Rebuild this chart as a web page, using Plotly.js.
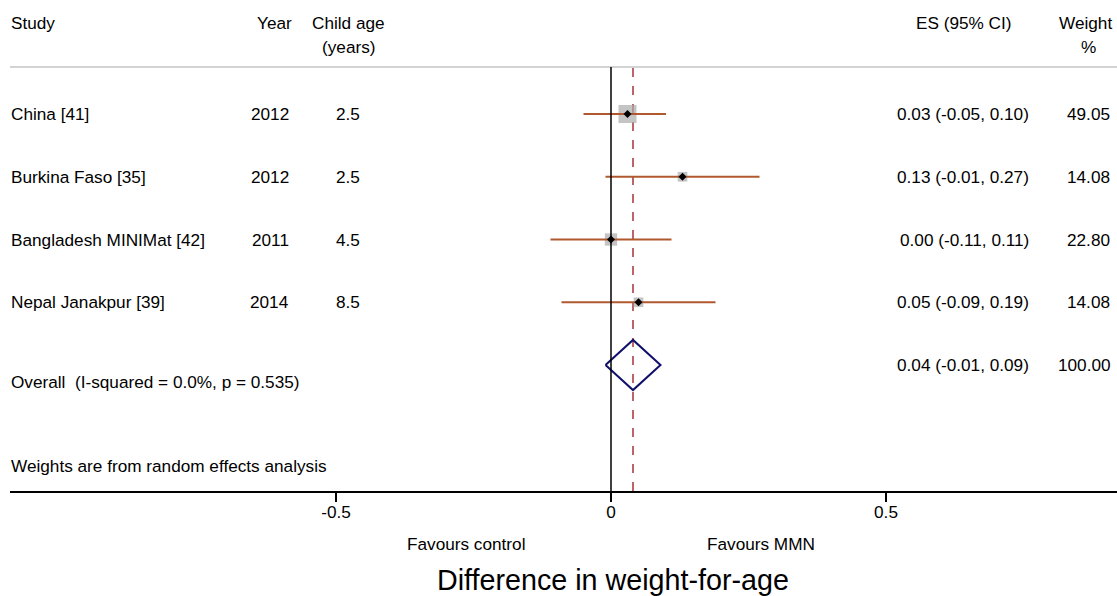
<!DOCTYPE html>
<html><head><meta charset="utf-8">
<script src="https://cdn.plot.ly/plotly-3.0.1.min.js"></script>
<style>html,body{margin:0;padding:0;background:#fff}</style>
</head><body><div id="chart" style="width:1117px;height:596px"></div>
<script>
// ---- data ----
const studies = ['China [41]', 'Burkina Faso [35]', 'Bangladesh MINIMat [42]', 'Nepal Janakpur [39]'];
const years = ['2012', '2012', '2011', '2014'];
const childAge = ['2.5', '2.5', '4.5', '8.5'];
const es = [0.03, 0.13, 0.00, 0.05];
const lower = [-0.05, -0.01, -0.11, -0.09];
const upper = [0.10, 0.27, 0.11, 0.19];
const weights = [49.05, 14.08, 22.80, 14.08];
const overallLabel = 'Overall  (I-squared = 0.0%, p = 0.535)';
const overallES = 0.04, overallLower = -0.01, overallUpper = 0.09, overallWeight = 100.00;
const tickVals = [-0.5, 0, 0.5];
const tickText = ['-0.5', '0', '0.5'];

// ---- layout helpers ----
const W = 1117, H = 596, L = 10, AX = 491;
const px = p => (p - L) / (W - L);          // paper x from pixel
const py = p => (AX - p) / AX;              // paper y from pixel (plot top at 0)
const rowY = i => i + 1;                    // study rows 1..4, overall 5
const FONT = 'Liberation Sans, Arial, sans-serif';
const BODY = 17.2;
const fmt = v => v.toFixed(2);
const ciText = (e, l, u) => fmt(e) + ' (' + fmt(l) + ', ' + fmt(u) + ')';

const rows = studies.map((s, i) => rowY(i));
const maxW = Math.max(...weights);

const traces = [
  { // weight boxes
    x: es, y: rows, type: 'scatter', mode: 'markers', hoverinfo: 'skip',
    marker: { symbol: 'square', color: '#ababab', size: weights.map(w => 18 * Math.sqrt(w / maxW)), line: { width: 0 } }
  },
  { // CI lines
    x: es, y: rows, type: 'scatter', mode: 'markers', hoverinfo: 'skip',
    marker: { size: 1, color: 'rgba(0,0,0,0)' },
    error_x: { type: 'data', symmetric: false, array: upper.map((u, i) => u - es[i]), arrayminus: lower.map((l, i) => es[i] - l), color: '#b0582e', thickness: 2.2, width: 0 }
  },
  { // point estimates
    x: es, y: rows, type: 'scatter', mode: 'markers', hoverinfo: 'skip',
    marker: { symbol: 'diamond', color: '#000', size: 6.2 }
  },
  { // overall diamond
    x: [overallLower, overallES, overallUpper, overallES, overallLower],
    y: [5, 5 - 0.4, 5, 5 + 0.4, 5], type: 'scatter', mode: 'lines', hoverinfo: 'skip',
    line: { color: '#10106b', width: 2 }
  }
];

const ann = [];
function t(text, xp, yp, anchor, size, opts) {
  const adj = anchor === 'left' ? -2 : (anchor === 'right' ? 2 : 0);
  ann.push(Object.assign({ text: text, xref: 'paper', yref: 'paper', x: px(xp + adj), y: py(yp), xanchor: anchor, yanchor: 'middle', showarrow: false, font: { family: FONT, size: size || BODY, color: '#000' } }, opts || {}));
}
// headers
t('Study', 11, 23, 'left');
t('Year', 292, 23, 'right');
t('Child age', 348, 23, 'center');
t('(years)', 348, 47, 'center');
t('ES (95% CI)', 964, 23, 'center');
t('Weight', 1112, 23, 'right');
t('%', 1088, 47, 'center');
// rows
const rowPix = [114, 177, 240, 302];
studies.forEach((s, i) => {
  t(s, 11, rowPix[i], 'left');
  t(years[i], 289, rowPix[i], 'right');
  t(childAge[i], 348, rowPix[i], 'center');
  t(ciText(es[i], lower[i], upper[i]), 1029, rowPix[i], 'right');
  t(fmt(weights[i]), 1110, rowPix[i], 'right');
});
t(overallLabel, 11, 382, 'left');
t(ciText(overallES, overallLower, overallUpper), 1029, 365, 'right');
t(fmt(overallWeight), 1111, 365, 'right');
t('Weights are from random effects analysis', 11, 466, 'left');
t('Favours control', 466, 544, 'center');
t('Favours MMN', 761, 544, 'center');
t('Difference in weight-for-age', 613, 580, 'center', 28.7);

const layout = {
  width: W, height: H, margin: { l: L, r: 0, t: 0, b: H - AX },
  paper_bgcolor: '#fff', plot_bgcolor: '#fff', showlegend: false,
  xaxis: {
    range: [(L - 611) / 550, (W - 611) / 550], tickvals: tickVals, ticktext: tickText,
    ticks: 'outside', ticklen: 9, tickwidth: 1.5, tickcolor: '#000', ticklabelstandoff: -4,
    showline: true, linecolor: '#000', linewidth: 1.5, showgrid: false, zeroline: false,
    tickfont: { family: FONT, size: BODY, color: '#000' }, fixedrange: true
  },
  yaxis: { range: [(AX - 51.25) / 62.75, (0 - 51.25) / 62.75], visible: false, fixedrange: true },
  shapes: [
    { type: 'line', xref: 'paper', yref: 'paper', x0: 0, x1: 1, y0: py(67), y1: py(67), line: { color: '#c4c4c4', width: 1.5 } },
    { type: 'line', xref: 'x', yref: 'paper', x0: 0, x1: 0, y0: 0, y1: py(67), line: { color: '#000', width: 1.5 } },
    { type: 'line', xref: 'x', yref: 'paper', x0: overallES, x1: overallES, y0: 0, y1: py(67), line: { color: '#a8323a', width: 1.5, dash: 'dash' }, layer: 'below' }
  ],
  annotations: ann
};
Plotly.newPlot('chart', traces, layout, { displayModeBar: false, staticPlot: true });
</script></body></html>
